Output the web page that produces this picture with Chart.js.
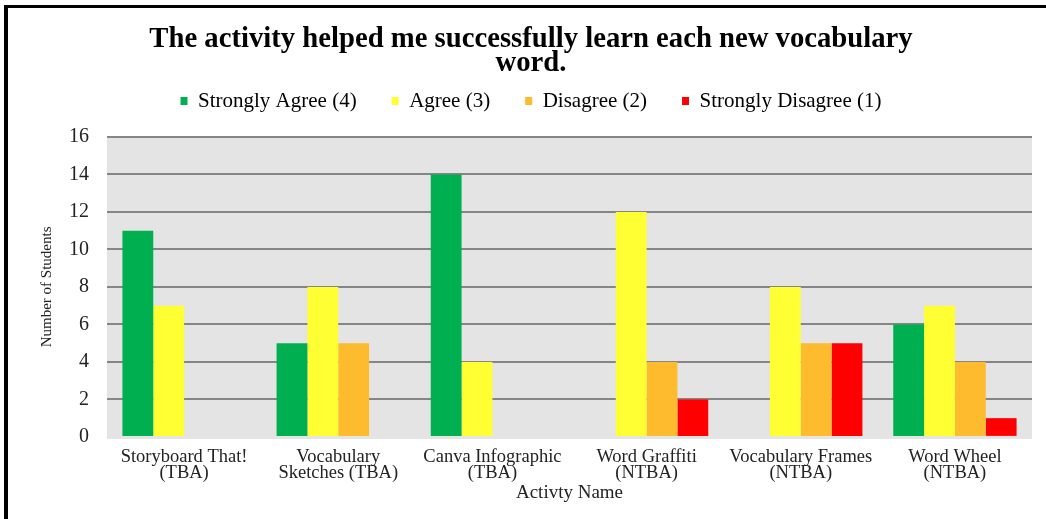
<!DOCTYPE html>
<html>
<head>
<meta charset="utf-8">
<script src="https://cdn.jsdelivr.net/npm/chart.js@4.4.1/dist/chart.umd.min.js"></script>
<style>
  body { margin: 0; background: #fff; }
  #wrap { position: relative; width: 1046px; height: 519px; }
  #frame { position: absolute; left: 4px; top: 5px; right: 0; bottom: 0; border-left: 4px solid #000; border-top: 3px solid #000; }
  canvas { position: absolute; left: 0; top: 0; }
</style>
</head>
<body>
<div id="wrap">
  <div id="frame"></div>
  <canvas id="grafico" width="1046" height="519"></canvas>
</div>
<script>
// dados
const atividades = [
    ['Storyboard That!', '(TBA)'],
    ['Vocabulary', 'Sketches (TBA)'],
    ['Canva Infographic', '(TBA)'],
    ['Word Graffiti', '(NTBA)'],
    ['Vocabulary Frames', '(NTBA)'],
    ['Word Wheel', '(NTBA)']
];
const concordoTotal = [11, 5, 14, 0, 0, 6];
const concordo = [7, 8, 4, 12, 8, 7];
const discordo = [0, 5, 0, 4, 5, 4];
const discordoTotal = [0, 0, 0, 2, 5, 1];
const ticksY = [0, 2, 4, 6, 8, 10, 12, 14, 16];

const serif = '"Liberation Serif", "Times New Roman", serif';

// fundo cinza da area do grafico
const fundoCinza = {
    id: 'fundoCinza',
    beforeDraw(chart) {
        const a = chart.chartArea;
        const ctx = chart.ctx;
        ctx.save();
        ctx.fillStyle = '#e4e4e4';
        ctx.fillRect(a.left, a.top, a.right - a.left, a.bottom - a.top + 2);
        ctx.restore();
    }
};

const ctx = document.getElementById('grafico');
new Chart(ctx, {
    type: 'bar',
    data: {
        labels: atividades,
        datasets: [
            { label: 'Strongly Agree (4)', data: concordoTotal, backgroundColor: '#00b050' },
            { label: 'Agree (3)', data: concordo, backgroundColor: '#ffff33' },
            { label: 'Disagree (2)', data: discordo, backgroundColor: '#fdbb2d' },
            { label: 'Strongly Disagree (1)', data: discordoTotal, backgroundColor: '#ff0000' }
        ]
    },
    options: {
        responsive: false,
        animation: false,
        layout: {
            padding: { top: 28, bottom: 14, left: 30, right: 14 }
        },
        datasets: {
            bar: { categoryPercentage: 0.8, barPercentage: 1.0 }
        },
        plugins: {
            title: {
                display: true,
                text: ['The activity helped me successfully learn each new vocabulary', 'word.'],
                color: '#000',
                font: { family: serif, size: 28.7, weight: 'bold', lineHeight: 0.836 },
                padding: { top: 0, bottom: -20.5 }
            },
            // espaco entre a legenda e o grafico
            subtitle: {
                display: true,
                text: ' ',
                weight: 500,
                font: { size: 1, lineHeight: 1 },
                padding: { top: 0, bottom: 14.5 }
            },
            legend: {
                labels: {
                    color: '#000',
                    boxWidth: 7,
                    boxHeight: 8,
                    padding: 35,
                    font: { family: serif, size: 21 }
                }
            },
            tooltip: { enabled: false }
        },
        scales: {
            x: {
                grid: { display: false },
                border: { display: false },
                ticks: {
                    color: '#222',
                    font: { family: serif, size: 18.5, lineHeight: 0.865 },
                    padding: 4,
                    maxRotation: 0
                },
                title: {
                    display: true,
                    text: 'Activty Name',
                    color: '#222',
                    font: { family: serif, size: 19, lineHeight: 0.9 },
                    padding: { top: 0, bottom: 3 }
                }
            },
            y: {
                min: 0,
                max: 16,
                afterBuildTicks: function (axis) {
                    axis.ticks = ticksY.map(v => ({ value: v }));
                },
                afterFit: function (axis) {
                    axis.width = 77;
                },
                grid: {
                    color: c => c.tick && c.tick.value === 0 ? 'rgba(0,0,0,0)' : '#858585',
                    lineWidth: 2,
                    drawTicks: false
                },
                border: { display: false },
                ticks: {
                    color: '#222',
                    font: { family: serif, size: 20 },
                    padding: 18
                },
                title: {
                    display: true,
                    text: 'Number of Students',
                    color: '#222',
                    font: { family: serif, size: 15 },
                    padding: { top: 8, bottom: 0 }
                }
            }
        }
    },
    plugins: [fundoCinza]
});
</script>
</body>
</html>
